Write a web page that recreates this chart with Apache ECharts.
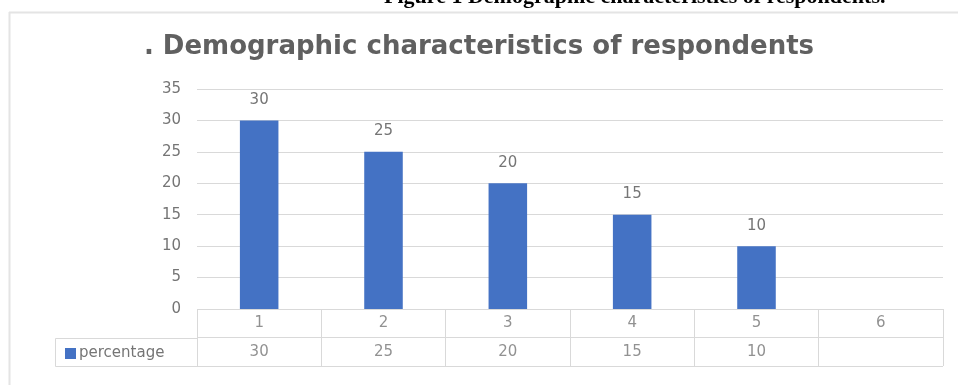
<!DOCTYPE html>
<html>
<head>
<meta charset="utf-8">
<style>
  html, body { margin: 0; padding: 0; background: #ffffff; }
  #chart { width: 958px; height: 385px; }
</style>
<script src="https://cdn.jsdelivr.net/npm/echarts@6/dist/echarts.min.js"></script>
</head>
<body>
<div id="chart"></div>
<script>
// Respondent groups and their share (%)
const categories = ['1', '2', '3', '4', '5', '6'];
const percentage = [30, 25, 20, 15, 10, null];
const yTicks = { min: 0, max: 35, interval: 5 };
const seriesName = 'percentage';

const chart = echarts.init(document.getElementById('chart'), null, { renderer: 'canvas' });

const titleGray = '#606060';
const textGray = '#757575';
const lineGray = '#d9d9d9';
const barBlue = '#4472c4';
const font = '"DejaVu Sans", "Noto Sans", sans-serif';

// Data table rows: category labels on top, values underneath
const tableHeader = categories.map(c => [c, 1.5, c]);
const tableValues = categories.map((c, i) => [c, 0.5, percentage[i] == null ? '' : String(percentage[i])]);

const plotLeft = 197, plotRight = 15;

chart.setOption({
  animation: false,
  backgroundColor: '#ffffff',
  title: {
    text: '. Demographic characteristics of respondents',
    left: 'center',
    top: 29,
    textStyle: { color: titleGray, fontFamily: font, fontSize: 26, fontWeight: 'bold' }
  },
  graphic: [
    // figure caption above the chart frame
    {
      type: 'text', left: 384, top: -14,
      style: {
        text: 'Figure 1 Demographic characteristics of respondents.',
        fill: '#000000',
        font: 'bold 22px "Liberation Serif", "Times New Roman", serif'
      }
    },
    // chart frame (top and left edges)
    { type: 'line', shape: { x1: 9, y1: 12.5, x2: 958, y2: 12.5 }, style: { stroke: '#e4e4e4', lineWidth: 2 } },
    { type: 'line', shape: { x1: 9.5, y1: 12, x2: 9.5, y2: 385 }, style: { stroke: '#e4e4e4', lineWidth: 2 } },
    // legend key cell of the data table
    {
      type: 'polyline',
      shape: { points: [[plotLeft, 338.5], [55.5, 338.5], [55.5, 366.5], [plotLeft, 366.5]] },
      style: { stroke: lineGray, lineWidth: 1, fill: null }
    }
  ],
  legend: {
    data: [seriesName],
    left: 65, top: 346,
    icon: 'rect', itemWidth: 11, itemHeight: 11, itemGap: 4,
    textStyle: { color: textGray, fontFamily: font, fontSize: 15, padding: [0, 0, 0, -2] },
    padding: 0
  },
  grid: [
    { left: plotLeft, right: plotRight, top: 89, height: 220 },
    { left: plotLeft, right: plotRight, top: 309, height: 57 }
  ],
  xAxis: [
    {
      type: 'category', gridIndex: 0, data: categories,
      axisLine: { show: false }, axisTick: { show: false }, axisLabel: { show: false }
    },
    {
      type: 'category', gridIndex: 1, data: categories,
      axisLine: { show: false }, axisTick: { show: false }, axisLabel: { show: false },
      splitLine: { show: true, lineStyle: { color: lineGray, width: 1 } }
    }
  ],
  yAxis: [
    {
      type: 'value', gridIndex: 0,
      min: yTicks.min, max: yTicks.max, interval: yTicks.interval,
      axisLine: { show: false }, axisTick: { show: false },
      axisLabel: { color: textGray, fontFamily: font, fontSize: 15, margin: 16 },
      splitLine: { lineStyle: { color: lineGray, width: 1 } }
    },
    {
      type: 'value', gridIndex: 1, min: 0, max: 2, interval: 1,
      axisLine: { show: false }, axisTick: { show: false }, axisLabel: { show: false },
      splitLine: { lineStyle: { color: lineGray, width: 1 } }
    }
  ],
  series: [
    {
      name: seriesName,
      type: 'bar',
      xAxisIndex: 0, yAxisIndex: 0,
      data: percentage,
      barWidth: '31%',
      itemStyle: { color: barBlue },
      label: {
        show: true, position: 'top', distance: 13,
        color: textGray, fontFamily: font, fontSize: 15
      }
    },
    {
      type: 'scatter', xAxisIndex: 1, yAxisIndex: 1,
      data: tableHeader, symbolSize: 0, silent: true,
      label: {
        show: true, position: 'inside',
        formatter: p => p.data[2],
        color: textGray, fontFamily: font, fontSize: 15
      }
    },
    {
      type: 'scatter', xAxisIndex: 1, yAxisIndex: 1,
      data: tableValues, symbolSize: 0, silent: true,
      label: {
        show: true, position: 'inside',
        formatter: p => p.data[2],
        color: textGray, fontFamily: font, fontSize: 15
      }
    }
  ]
});
</script>
</body>
</html>
